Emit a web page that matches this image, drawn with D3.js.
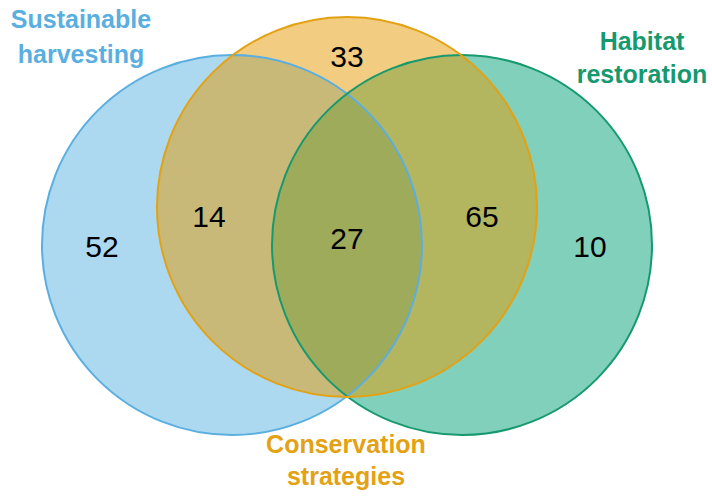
<!DOCTYPE html>
<html>
<head>
<meta charset="utf-8">
<script src="https://cdn.jsdelivr.net/npm/d3@7"></script>
<style>
  html, body { margin: 0; padding: 0; background: #ffffff; }
  svg { display: block; }
  text { font-family: "Liberation Sans", Arial, sans-serif; }
</style>
</head>
<body>
<div id="chart"></div>
<script>
// ---- data ----
const setNames = ["Sustainable harvesting", "Conservation strategies", "Habitat restoration"];
const setLabelLines = [["Sustainable", "harvesting"], ["Conservation", "strategies"], ["Habitat", "restoration"]];
const setColors = ["#59b1e1", "#e59a02", "#02a179"];
const setStrokes = ["#5aafe0", "#e3a214", "#16996e"];
const regionKeys = ["A", "AB", "B", "BC", "C", "ABC"];
const regionValues = [52, 14, 33, 65, 10, 27];

// ---- layout (unit geometry mapped through scales) ----
const W = 712, H = 497;
const x = d3.scaleLinear().domain([-1, 1]).range([232, 462]);
const y = d3.scaleLinear().domain([-1, 1]).range([207, 245]);
const rScale = d3.scaleLinear().domain([0, 1]).range([0, 190]);

const circles = [
  { set: 0, cx: -1, cy: 1 },
  { set: 1, cx: 0, cy: -1 },
  { set: 2, cx: 1, cy: 1 }
];
// region label anchors in pixel space
const regionPos = {
  A: [102, 257], AB: [209, 227], B: [347, 67], BC: [482, 227], C: [590, 257], ABC: [347, 249]
};
const labelPos = [
  { x: 81, y: [28, 63] },
  { x: 346, y: [453, 485] },
  { x: 642, y: [50, 83] }
];

const svg = d3.select("#chart").append("svg").attr("width", W).attr("height", H);

// fills: blue, green, orange (orange on top)
const drawOrder = [0, 2, 1];
svg.append("g").selectAll("circle")
  .data(drawOrder.map(i => circles[i]))
  .join("circle")
  .attr("cx", d => x(d.cx))
  .attr("cy", d => y(d.cy))
  .attr("r", rScale(1))
  .attr("fill", d => setColors[d.set])
  .attr("fill-opacity", 0.5);

svg.append("g").selectAll("circle")
  .data([0, 2, 1].map(i => circles[i]))
  .join("circle")
  .attr("cx", d => x(d.cx))
  .attr("cy", d => y(d.cy))
  .attr("r", rScale(1))
  .attr("fill", "none")
  .attr("stroke", d => setStrokes[d.set])
  .attr("stroke-width", 2);

// region counts
svg.append("g").selectAll("text")
  .data(regionKeys.map((k, i) => ({ k, v: regionValues[i] })))
  .join("text")
  .attr("x", d => regionPos[d.k][0])
  .attr("y", d => regionPos[d.k][1])
  .attr("text-anchor", "middle")
  .attr("font-size", 30)
  .attr("fill", "#000")
  .text(d => d.v);

// set labels
setLabelLines.forEach((lines, i) => {
  const t = svg.append("text")
    .attr("text-anchor", "middle")
    .attr("font-size", 25)
    .attr("font-weight", "bold")
    .attr("fill", setStrokes[i]);
  lines.forEach((ln, j) => {
    t.append("tspan").attr("x", labelPos[i].x).attr("y", labelPos[i].y[j]).text(ln);
  });
});
</script>
</body>
</html>
